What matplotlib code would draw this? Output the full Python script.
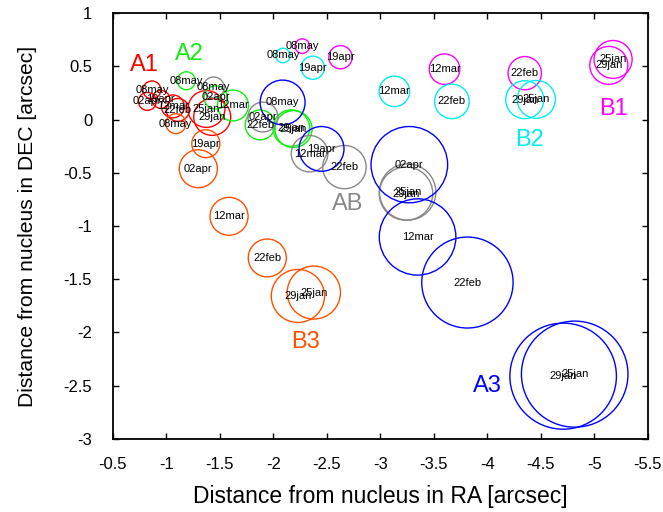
import numpy as np
import matplotlib
matplotlib.use('Agg')
import matplotlib.pyplot as plt
from matplotlib.patches import Circle

plt.rcParams['font.family'] = ['Liberation Sans', 'DejaVu Sans']

# positions (RA, DEC offsets) and sizes of the knots, per component
a1_dates = ["25jan", "29jan", "22feb", "12mar", "02apr", "19apr", "08may"]
a1_x = [-1.374, -1.428, -1.106, -1.060, -0.822, -0.948, -0.864]
a1_y = [0.099, 0.024, 0.090, 0.123, 0.170, 0.189, 0.278]
a1_r = [0.173, 0.173, 0.107, 0.107, 0.084, 0.084, 0.084]

a2_dates = ["25jan", "29jan", "22feb", "12mar", "02apr", "08may"]
a2_x = [-2.188, -2.167, -1.876, -1.622, -1.461, -1.186]
a2_y = [-0.090, -0.081, -0.051, 0.132, 0.207, 0.364]
a2_r = [0.173, 0.171, 0.140, 0.145, 0.109, 0.084]

ab_dates = ["25jan", "29jan", "22feb", "12mar", "02apr", "08may"]
ab_x = [-3.255, -3.240, -2.664, -2.338, -1.902, -1.442]
ab_y = [-0.681, -0.696, -0.447, -0.321, 0.023, 0.301]
ab_r = [0.264, 0.250, 0.203, 0.171, 0.140, 0.098]

a3_dates = ["25jan", "29jan", "22feb", "12mar", "02apr", "19apr", "08may"]
a3_x = [-4.817, -4.709, -3.814, -3.348, -3.271, -2.450, -2.086]
a3_y = [-2.391, -2.410, -1.531, -1.103, -0.424, -0.276, 0.160]
a3_r = [0.498, 0.498, 0.427, 0.358, 0.358, 0.210, 0.210]

b1_dates = ["25jan", "29jan", "22feb", "12mar", "19apr", "08may"]
b1_x = [-5.176, -5.136, -4.350, -3.600, -2.627, -2.270]
b1_y = [0.564, 0.508, 0.435, 0.473, 0.585, 0.689]
b1_r = [0.178, 0.178, 0.156, 0.143, 0.109, 0.068]

b2_dates = ["25jan", "29jan", "22feb", "12mar", "19apr", "08may"]
b2_x = [-4.458, -4.350, -3.669, -3.131, -2.368, -2.089]
b2_y = [0.189, 0.186, 0.170, 0.264, 0.486, 0.601]
b2_r = [0.178, 0.178, 0.162, 0.143, 0.109, 0.068]

b3_dates = ["25jan", "29jan", "22feb", "12mar", "02apr", "19apr", "08may"]
b3_x = [-2.378, -2.229, -1.943, -1.585, -1.298, -1.368, -1.088]
b3_y = [-1.625, -1.657, -1.300, -0.909, -0.462, -0.227, -0.039]
b3_r = [0.249, 0.249, 0.178, 0.178, 0.178, 0.131, 0.093]

groups = [
    ("A1", "#ff0000", a1_dates, a1_x, a1_y, a1_r, (-0.792, 0.508)),
    ("A2", "#11ee11", a2_dates, a2_x, a2_y, a2_r, (-1.212, 0.617)),
    ("AB", "#888888", ab_dates, ab_x, ab_y, ab_r, (-2.695, -0.790)),
    ("A3", "#0000ff", a3_dates, a3_x, a3_y, a3_r, (-4.001, -2.504)),
    ("B1", "#ff00ff", b1_dates, b1_x, b1_y, b1_r, (-5.183, 0.101)),
    ("B2", "#00eeee", b2_dates, b2_x, b2_y, b2_r, (-4.396, -0.196)),
    ("B3", "#ff5000", b3_dates, b3_x, b3_y, b3_r, (-2.300, -2.088)),
]

fig = plt.figure(figsize=(6.63, 5.12), dpi=100)
ax = fig.add_axes([0.1704, 0.1426, 0.8066, 0.832])

for name, col, dates, xs, ys, rs, lpos in groups:
    for d, x, y, r in zip(dates, xs, ys, rs):
        ax.add_patch(Circle((x, y), r, fill=False, edgecolor=col, linewidth=1.0))
    ax.text(lpos[0], lpos[1], name, color=col, fontsize=17, ha='center', va='center')

for name, col, dates, xs, ys, rs, lpos in groups:
    for d, x, y, r in zip(dates, xs, ys, rs):
        ax.text(x, y, d, fontsize=8, ha='center', va='center', color='black')

ax.set_xlim(-0.5, -5.5)
ax.set_ylim(-3, 1)
ax.set_xticks(np.arange(-0.5, -5.51, -0.5))
ax.set_xticklabels(["-0.5", "-1", "-1.5", "-2", "-2.5", "-3", "-3.5", "-4", "-4.5", "-5", "-5.5"])
ax.set_yticks(np.arange(-3, 1.01, 0.5))
ax.set_yticklabels(["-3", "-2.5", "-2", "-1.5", "-1", "-0.5", "0", "0.5", "1"])

ax.tick_params(direction='in', length=4, width=1, top=True, right=True, labelsize=12)
ax.tick_params(axis='x', pad=13)
ax.tick_params(axis='y', pad=15)
for s in ax.spines.values():
    s.set_linewidth(1.3)

ax.set_xlabel("Distance from nucleus in RA [arcsec]", fontsize=16.5, labelpad=9)
ax.set_ylabel("Distance from nucleus in DEC [arcsec]", fontsize=15.2, labelpad=19)

fig.savefig("out.png", dpi=100)
